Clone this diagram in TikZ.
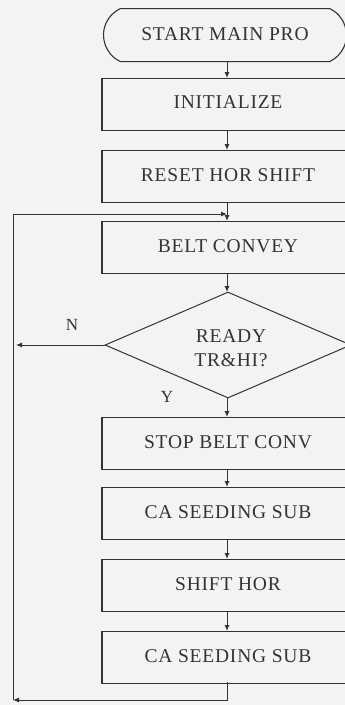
\documentclass[tikz,border=0pt]{standalone}
\usepackage{fontspec}
\setmainfont{Liberation Serif}
\usetikzlibrary{arrows.meta,shapes.geometric,shapes.misc}
\definecolor{bg}{HTML}{F3F3F1}
\definecolor{ln}{HTML}{333333}
\tikzset{
  every node/.style={font=\fontsize{19.5}{21}\selectfont\addfontfeature{LetterSpace=4}, text=ln},
  stepbox/.style={draw=ln, line width=1.1pt, fill=bg, minimum width=252pt, minimum height=52pt, inner sep=0pt, anchor=north, text depth=4pt},
  term/.style={draw=ln, line width=1.1pt, fill=bg, rounded rectangle, rounded rectangle arc length=130, minimum width=243pt, minimum height=53pt, inner sep=0pt, anchor=north, text depth=3pt},
  decision/.style={draw=ln, line width=1pt, fill=bg, diamond, minimum width=246pt, minimum height=106pt, inner sep=0pt, aspect=2.3, align=center},
  conn/.style={draw=ln, line width=1pt, -{Latex[length=6pt,width=5pt]}},
  lbl/.style={font=\fontsize{17}{18}\selectfont}
}
\begin{document}
\begin{tikzpicture}[x=1pt,y=-1pt]
\clip (0,0) rectangle (345,705);
\fill[bg] (0,0) rectangle (345,705);
\node[term] (start) at (225,8) {START MAIN PRO};
\node[stepbox] (init) at (228,78) {INITIALIZE};
\node[stepbox] (reset) at (228,150) {RESET HOR SHIFT};
\node[stepbox] (belt) at (228,221) {BELT CONVEY};
\node[decision] (ready) at (228,345) {};
\node (readytxt) at (231,348) [align=center] {READY\\[3pt]TR\&HI?};
\node[stepbox] (stop) at (228,417) {STOP BELT CONV};
\node[stepbox] (ca1) at (228,487) {CA SEEDING SUB};
\node[stepbox] (shift) at (228,559) {SHIFT HOR};
\node[stepbox] (ca2) at (228,631) {CA SEEDING SUB};
\node[lbl] (nlbl) at (72,325) {N};
\node[lbl] (ylbl) at (167,397) {Y};
\coordinate (botmid) at (227,700);
\coordinate (botleft) at (13,700);
\coordinate (topleft) at (13,214);
\coordinate (topmid) at (227,214);
\coordinate (nend) at (16,345);
\draw[conn] (227,61) -- (227,78);
\draw[conn] (227,130) -- (227,150);
\draw[conn] (227,202) -- (227,221);
\draw[conn] (227,273) -- (227,292);
\draw[conn] (227,398) -- (227,417);
\draw[conn] (227,469) -- (227,487);
\draw[conn] (227,539) -- (227,559);
\draw[conn] (227,611) -- (227,631);
\draw[conn] (ready.west) -- (nend);
\draw[conn] (227,682) -- (botmid) -- (botleft);
\draw[conn] (botleft) -- (topleft) -- (topmid);
\end{tikzpicture}
\end{document}
